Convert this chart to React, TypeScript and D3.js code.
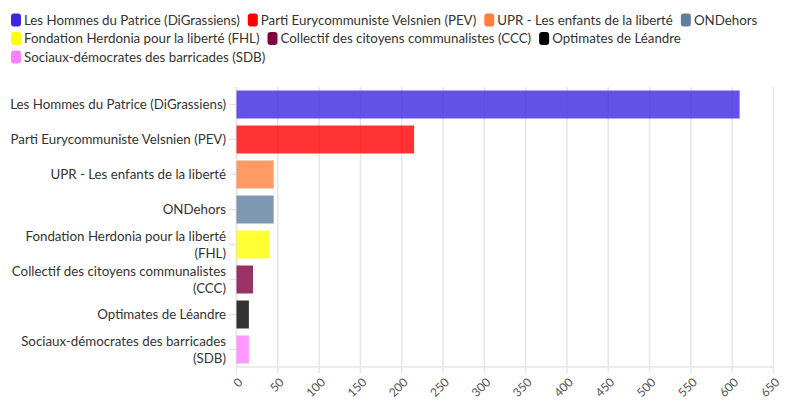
import React, { useEffect, useRef } from "react";
import * as d3 from "d3";

const categories = [
  "Les Hommes du Patrice (DiGrassiens)",
  "Parti Eurycommuniste Velsnien (PEV)",
  "UPR - Les enfants de la liberté",
  "ONDehors",
  "Fondation Herdonia pour la liberté (FHL)",
  "Collectif des citoyens communalistes (CCC)",
  "Optimates de Léandre",
  "Sociaux-démocrates des barricades (SDB)",
];
const values = [609, 215, 45, 45, 40, 20, 15, 15];
const colors = ["#3d26e1", "#ff0000", "#ff7f40", "#5f7f9f", "#ffff00", "#7f0040", "#000000", "#ff7fff"];
const xTicks = [0, 50, 100, 150, 200, 250, 300, 350, 400, 450, 500, 550, 600, 650];

const W = 796;
const H = 415;
const FONT = "Lato, 'Noto Sans', sans-serif";

export default function App() {
  const ref = useRef<SVGSVGElement | null>(null);

  useEffect(() => {
    const svg = d3.select(ref.current);
    svg.selectAll("*").remove();

    const x = d3.scaleLinear().domain([0, 650]).range([236.5, 773.5]);
    const y = d3.scaleBand<string>().domain(categories).range([87, 367]).paddingInner(0.2).paddingOuter(0.1);

    // Legend
    const leg = svg.append("g").attr("font-family", FONT).attr("font-size", 13.3).attr("fill", "#333");
    let lx = 11;
    let row = 0;
    const rowH = 18.5;
    const maxX = 790;
    categories.forEach((c, i) => {
      const g = leg.append("g");
      g.append("rect").attr("width", 10).attr("height", 13).attr("rx", 3).attr("fill", colors[i]);
      const t = g.append("text").attr("x", 13).attr("y", 6.5).attr("dy", "0.35em").text(c);
      const w = (t.node() as SVGTextElement).getComputedTextLength() + 13;
      if (lx + w > maxX && lx > 11) {
        row += 1;
        lx = 11;
      }
      g.attr("transform", `translate(${lx},${20 + row * rowH - 6.5})`);
      lx += w + 8;
    });

    // Grid
    const grid = svg.append("g");
    xTicks.forEach((v) => {
      grid.append("line")
        .attr("x1", x(v)).attr("x2", x(v))
        .attr("y1", 87).attr("y2", 373)
        .attr("stroke", "#e6e6e6").attr("stroke-width", 1.5);
    });
    grid.append("line").attr("x1", 236.5).attr("x2", 773.5).attr("y1", 367).attr("y2", 367)
      .attr("stroke", "#e6e6e6").attr("stroke-width", 1.5);
    grid.append("line").attr("x1", 236.5).attr("x2", 236.5).attr("y1", 87).attr("y2", 367)
      .attr("stroke", "#e6e6e6").attr("stroke-width", 1.5);

    // x tick labels
    const xl = svg.append("g").attr("font-family", FONT).attr("font-size", 12).attr("fill", "#555");
    xTicks.forEach((v) => {
      xl.append("text")
        .attr("transform", `translate(${x(v) + 4},${380}) rotate(-45)`)
        .attr("text-anchor", "end")
        .attr("dy", "0.35em")
        .text(String(v));
    });

    // y ticks + labels
    const yl = svg.append("g").attr("font-family", FONT).attr("font-size", 13.3).attr("fill", "#333");
    categories.forEach((c) => {
      const cy = (y(c) as number) + y.bandwidth() / 2;
      yl.append("line").attr("x1", 229).attr("x2", 236).attr("y1", cy).attr("y2", cy)
        .attr("stroke", "#e6e6e6").attr("stroke-width", 1.5);
      const words = c.split(" ");
      const lines: string[] = [];
      const tmp = yl.append("text").attr("visibility", "hidden");
      let cur = "";
      words.forEach((wd) => {
        const test = cur ? cur + " " + wd : wd;
        tmp.text(test);
        if ((tmp.node() as SVGTextElement).getComputedTextLength() > 222 && cur) {
          lines.push(cur);
          cur = wd;
        } else cur = test;
      });
      lines.push(cur);
      tmp.remove();
      const lh = 17;
      const t = yl.append("text").attr("text-anchor", "end");
      lines.forEach((ln, k) => {
        t.append("tspan").attr("x", 226)
          .attr("y", cy + (k - (lines.length - 1) / 2) * lh)
          .attr("dy", "0.35em").text(ln);
      });
    });

    // bars
    svg.append("g").selectAll("rect").data(categories).join("rect")
      .attr("x", x(0))
      .attr("y", (d) => y(d) as number)
      .attr("width", (d, i) => x(values[i]) - x(0))
      .attr("height", y.bandwidth())
      .attr("fill", (d, i) => colors[i])
      .attr("fill-opacity", 0.8);
  }, []);

  return (
    <svg ref={ref} width={W} height={H} style={{ position: "absolute", left: 0, top: 0, background: "#fff" }} />
  );
}
